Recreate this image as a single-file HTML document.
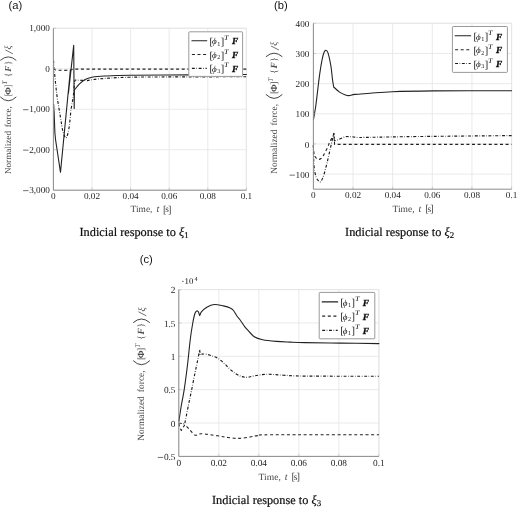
<!DOCTYPE html><html><head><meta charset="utf-8"><style>html,body{margin:0;padding:0;background:#fff;width:518px;height:507px;overflow:hidden}svg{display:block;will-change:transform}text{font-family:"Liberation Serif", serif;text-rendering:geometricPrecision}text.sans{font-family:"Liberation Sans",sans-serif}</style></head><body>
<svg width="518" height="507" viewBox="0 0 518 507" fill="#111">
<rect width="518" height="507" fill="#fff"/>
<line x1="53.4" y1="28.3" x2="53.4" y2="190.2" stroke="#e4e4e4" stroke-width="0.8"/>
<line x1="92" y1="28.3" x2="92" y2="190.2" stroke="#e4e4e4" stroke-width="0.8"/>
<line x1="130.6" y1="28.3" x2="130.6" y2="190.2" stroke="#e4e4e4" stroke-width="0.8"/>
<line x1="169.2" y1="28.3" x2="169.2" y2="190.2" stroke="#e4e4e4" stroke-width="0.8"/>
<line x1="207.8" y1="28.3" x2="207.8" y2="190.2" stroke="#e4e4e4" stroke-width="0.8"/>
<line x1="246.4" y1="28.3" x2="246.4" y2="190.2" stroke="#e4e4e4" stroke-width="0.8"/>
<line x1="53.4" y1="28.3" x2="246.4" y2="28.3" stroke="#e4e4e4" stroke-width="0.8"/>
<line x1="53.4" y1="68.77" x2="246.4" y2="68.77" stroke="#e4e4e4" stroke-width="0.8"/>
<line x1="53.4" y1="109.25" x2="246.4" y2="109.25" stroke="#e4e4e4" stroke-width="0.8"/>
<line x1="53.4" y1="149.72" x2="246.4" y2="149.72" stroke="#e4e4e4" stroke-width="0.8"/>
<line x1="53.4" y1="190.2" x2="246.4" y2="190.2" stroke="#e4e4e4" stroke-width="0.8"/>
<line x1="53.4" y1="28.3" x2="246.4" y2="28.3" stroke="#e4e4e4" stroke-width="0.8"/>
<line x1="246.4" y1="28.3" x2="246.4" y2="190.2" stroke="#e4e4e4" stroke-width="0.8"/>
<path d="M53.5,68.8 C53.5,68.8 53.92,69.55 55,69.8 C56.08,70.05 57.5,70.23 60,70.3 C62.5,70.37 68,70.33 70,70.2 C72,70.07 71.33,69.68 72,69.5 C72.67,69.32 74,69.1 74,69.1 L246.4,69.1" fill="none" stroke="#222" stroke-width="1.1" stroke-dasharray="3.0 2.6" stroke-linejoin="round"/>
<path d="M53.5,60.5 C53.5,60.5 53.75,64.13 54.1,68 C54.45,71.87 55.07,78.7 55.6,83.7 C56.13,88.7 56.47,92.28 57.3,98 C58.13,103.72 59.7,112.58 60.6,118 C61.5,123.42 61.88,127.2 62.7,130.5 C63.52,133.8 64.68,137.13 65.5,137.8 C66.32,138.47 66.93,136.7 67.6,134.5 C68.27,132.3 68.93,128.68 69.5,124.6 C70.07,120.52 70.38,114.6 71,110 C71.62,105.4 72.65,101.17 73.2,97 C73.75,92.83 74.02,87.75 74.3,85 C74.58,82.25 74.62,81.32 74.9,80.5 C75.18,79.68 76,80.1 76,80.1 L87.4,80.6 C87.4,80.6 91.9,79.47 99,78.9 C106.1,78.33 114.83,77.53 130,77.2 C145.17,76.87 170.6,76.98 190,76.9 C209.4,76.82 246.4,76.7 246.4,76.7" fill="none" stroke="#1a1a1a" stroke-width="1.15" stroke-dasharray="2.9 1.6 0.6 1.7" stroke-linejoin="round"/>
<path d="M53.6,104 L54.1,112 L54.9,133 L55.6,140 L60.5,172.3 L70.4,69.8 L68.4,93.4 L73.7,45.4 L74.2,108.5 L74.4,90 C74.4,90 75.98,87.98 76.8,87 C77.62,86.02 77.92,85.35 79.3,84.1 C80.68,82.85 82.98,80.65 85.1,79.5 C87.22,78.35 88.72,77.78 92,77.2 C95.28,76.62 98.47,76.33 104.8,76 C111.13,75.67 115.8,75.38 130,75.2 C144.2,75.02 170.6,75.02 190,74.9 C209.4,74.78 246.4,74.5 246.4,74.5" fill="none" stroke="#222" stroke-width="1.1" stroke-linejoin="round" stroke-linecap="round"/>
<line x1="92" y1="190.2" x2="92" y2="187.6" stroke="#c4c4c4" stroke-width="0.8"/>
<line x1="130.6" y1="190.2" x2="130.6" y2="187.6" stroke="#c4c4c4" stroke-width="0.8"/>
<line x1="169.2" y1="190.2" x2="169.2" y2="187.6" stroke="#c4c4c4" stroke-width="0.8"/>
<line x1="207.8" y1="190.2" x2="207.8" y2="187.6" stroke="#c4c4c4" stroke-width="0.8"/>
<line x1="246.4" y1="190.2" x2="246.4" y2="187.6" stroke="#c4c4c4" stroke-width="0.8"/>
<line x1="53.4" y1="28.3" x2="56" y2="28.3" stroke="#c4c4c4" stroke-width="0.8"/>
<line x1="53.4" y1="68.77" x2="56" y2="68.77" stroke="#c4c4c4" stroke-width="0.8"/>
<line x1="53.4" y1="109.25" x2="56" y2="109.25" stroke="#c4c4c4" stroke-width="0.8"/>
<line x1="53.4" y1="149.72" x2="56" y2="149.72" stroke="#c4c4c4" stroke-width="0.8"/>
<path d="M53.4,28.3 L53.4,190.2 L246.4,190.2" fill="none" stroke="#8c8c8c" stroke-width="1" stroke-linejoin="round"/>
<rect x="188.8" y="31.8" width="53.8" height="44.6" fill="#fff" stroke="#9a9a9a" stroke-width="1.0" rx="0.8"/>
<path d="M191.9,40.7 L206.8,40.7" fill="none" stroke="#222" stroke-width="1.1" stroke-linejoin="round" stroke-linecap="round"/>
<text x="209.43" y="44.7" font-size="10.4">[</text>
<text x="212" y="44.4" font-size="9" font-style="italic">&#x3d5;</text>
<text x="217.2" y="45.6" font-size="6.2">1</text>
<text x="220.8" y="44.7" font-size="10.4">]</text>
<text x="224.1" y="39.8" font-size="7.0" font-style="italic" textLength="4.6" lengthAdjust="spacingAndGlyphs">T</text>
<text x="232" y="44.4" font-size="9.3" font-style="italic" font-weight="bold" stroke="#111" stroke-width="0.35">F</text>
<path d="M191.9,54.5 L206.8,54.5" fill="none" stroke="#222" stroke-width="1.1" stroke-dasharray="3.0 2.6" stroke-linejoin="round"/>
<text x="209.43" y="58.5" font-size="10.4">[</text>
<text x="212" y="58.2" font-size="9" font-style="italic">&#x3d5;</text>
<text x="217.2" y="59.4" font-size="6.2">2</text>
<text x="220.8" y="58.5" font-size="10.4">]</text>
<text x="224.1" y="53.6" font-size="7.0" font-style="italic" textLength="4.6" lengthAdjust="spacingAndGlyphs">T</text>
<text x="232" y="58.2" font-size="9.3" font-style="italic" font-weight="bold" stroke="#111" stroke-width="0.35">F</text>
<path d="M191.9,68.3 L206.8,68.3" fill="none" stroke="#1a1a1a" stroke-width="1.15" stroke-dasharray="2.9 1.6 0.6 1.7" stroke-linejoin="round"/>
<text x="209.43" y="72.3" font-size="10.4">[</text>
<text x="212" y="72" font-size="9" font-style="italic">&#x3d5;</text>
<text x="217.2" y="73.2" font-size="6.2">3</text>
<text x="220.8" y="72.3" font-size="10.4">]</text>
<text x="224.1" y="67.4" font-size="7.0" font-style="italic" textLength="4.6" lengthAdjust="spacingAndGlyphs">T</text>
<text x="232" y="72" font-size="9.3" font-style="italic" font-weight="bold" stroke="#111" stroke-width="0.35">F</text>
<text x="53.4" y="198.9" text-anchor="middle" font-size="9.2" fill="#262626">0</text>
<text x="92" y="198.9" text-anchor="middle" font-size="9.2" fill="#262626">0.02</text>
<text x="130.6" y="198.9" text-anchor="middle" font-size="9.2" fill="#262626">0.04</text>
<text x="169.2" y="198.9" text-anchor="middle" font-size="9.2" fill="#262626">0.06</text>
<text x="207.8" y="198.9" text-anchor="middle" font-size="9.2" fill="#262626">0.08</text>
<text x="246.4" y="198.9" text-anchor="middle" font-size="9.2" fill="#262626">0.1</text>
<text x="49.9" y="31.34" text-anchor="end" font-size="9.2" fill="#262626">1,000</text>
<text x="49.9" y="71.81" text-anchor="end" font-size="9.2" fill="#262626">0</text>
<text x="49.9" y="112.29" text-anchor="end" font-size="9.2" fill="#262626">1,000</text>
<line x1="23.1" y1="109.69" x2="28.5" y2="109.69" stroke="#111" stroke-width="0.6"/>
<text x="49.9" y="152.76" text-anchor="end" font-size="9.2" fill="#262626">2,000</text>
<line x1="23.1" y1="150.16" x2="28.5" y2="150.16" stroke="#111" stroke-width="0.6"/>
<text x="49.9" y="193.24" text-anchor="end" font-size="9.2" fill="#262626">3,000</text>
<line x1="23.1" y1="190.64" x2="28.5" y2="190.64" stroke="#111" stroke-width="0.6"/>
<g fill="#444">
<text x="130.6" y="212.3" font-size="9.4" fill="#444">Time,</text>
<text x="156.44" y="212.3" font-size="9.9" font-style="italic" fill="#444">t</text>
<text x="163.02" y="212.5" font-size="10.39" fill="#444">[</text>
<text x="165.25" y="212.3" font-size="9.4" fill="#444">s</text>
<text x="168.02" y="212.5" font-size="10.39" fill="#444">]</text>
</g>
<g transform="translate(10.9,174) rotate(-90) scale(1)" fill="#4a4a4a">
<text x="0" y="0" font-size="9.1">Normalized</text>
<text x="46.8" y="0" font-size="9.1">force,</text>
<path d="M77.1,-10.6 Q69.3,-2.6 77.1,5.4" fill="none" stroke="#1a1a1a" stroke-width="0.8"/>
<text x="77.6" y="0" font-size="9.1">[</text>
<text x="79.3" y="0" font-size="9.1" font-weight="bold">&#x3a6;</text>
<text x="86.4" y="0" font-size="9.1">]</text>
<text x="89.4" y="-4.0" font-size="7" font-style="italic">T</text>
<text x="97.1" y="0" font-size="9.1">{</text>
<text x="102.3" y="0" font-size="9.1" font-weight="bold" font-style="italic">F</text>
<text x="108.9" y="0" font-size="9.1">}</text>
<path d="M113.6,-10.6 Q120.6,-2.6 113.6,5.4" fill="none" stroke="#1a1a1a" stroke-width="0.8"/>
<path d="M120.2,2.0 L124.1,-5.6" fill="none" stroke="#1a1a1a" stroke-width="0.6"/>
<text x="124.4" y="0.5" font-size="9.2" font-style="italic">&#x3be;</text>
</g>
<text x="79.5" y="235.5" font-size="12.3" stroke="#000" stroke-width="0.18">Indicial response to <tspan font-style="italic">&#x3be;</tspan><tspan font-size="8.86" dy="2">1</tspan></text>
<text x="8.6" y="9.4" font-size="11.2" class="sans">(a)</text>
<line x1="313.4" y1="23.3" x2="313.4" y2="189.2" stroke="#e4e4e4" stroke-width="0.8"/>
<line x1="353.04" y1="23.3" x2="353.04" y2="189.2" stroke="#e4e4e4" stroke-width="0.8"/>
<line x1="392.68" y1="23.3" x2="392.68" y2="189.2" stroke="#e4e4e4" stroke-width="0.8"/>
<line x1="432.32" y1="23.3" x2="432.32" y2="189.2" stroke="#e4e4e4" stroke-width="0.8"/>
<line x1="471.96" y1="23.3" x2="471.96" y2="189.2" stroke="#e4e4e4" stroke-width="0.8"/>
<line x1="511.6" y1="23.3" x2="511.6" y2="189.2" stroke="#e4e4e4" stroke-width="0.8"/>
<line x1="313.4" y1="23.3" x2="511.6" y2="23.3" stroke="#e4e4e4" stroke-width="0.8"/>
<line x1="313.4" y1="53.46" x2="511.6" y2="53.46" stroke="#e4e4e4" stroke-width="0.8"/>
<line x1="313.4" y1="83.63" x2="511.6" y2="83.63" stroke="#e4e4e4" stroke-width="0.8"/>
<line x1="313.4" y1="113.79" x2="511.6" y2="113.79" stroke="#e4e4e4" stroke-width="0.8"/>
<line x1="313.4" y1="143.95" x2="511.6" y2="143.95" stroke="#e4e4e4" stroke-width="0.8"/>
<line x1="313.4" y1="174.12" x2="511.6" y2="174.12" stroke="#e4e4e4" stroke-width="0.8"/>
<line x1="313.4" y1="23.3" x2="511.6" y2="23.3" stroke="#e4e4e4" stroke-width="0.8"/>
<line x1="511.6" y1="23.3" x2="511.6" y2="189.2" stroke="#e4e4e4" stroke-width="0.8"/>
<path d="M313.4,145 C313.4,145 313.53,150.08 313.8,152 C314.07,153.92 314.3,155.28 315,156.5 C315.7,157.72 317,158.97 318,159.3 C319,159.63 320.02,159.28 321,158.5 C321.98,157.72 322.82,156.4 323.9,154.6 C324.98,152.8 326.53,149.8 327.5,147.7 C328.47,145.6 328.88,143.73 329.7,142 C330.52,140.27 331.7,138.75 332.4,137.3 C333.1,135.85 333.9,133.3 333.9,133.3 L334.6,144.4 L511.6,144.4" fill="none" stroke="#222" stroke-width="1.1" stroke-dasharray="3.0 2.6" stroke-linejoin="round"/>
<path d="M313.4,145 C313.4,145 313.52,155.83 313.7,160 C313.88,164.17 314.03,167 314.5,170 C314.97,173 315.62,176.03 316.5,178 C317.38,179.97 318.97,181.38 319.8,181.8 C320.63,182.22 320.82,181.68 321.5,180.5 C322.18,179.32 323.07,177.28 323.9,174.7 C324.73,172.12 325.7,168.15 326.5,165 C327.3,161.85 327.92,159.18 328.7,155.8 C329.48,152.42 330.48,147.83 331.2,144.7 C331.92,141.57 332.55,138.87 333,137 C333.45,135.13 333.9,133.5 333.9,133.5 L334.4,140.8 C334.4,140.8 337,140.17 338.8,139.5 C340.6,138.83 343.5,137.28 345.2,136.8 C346.9,136.32 347.82,136.6 349,136.6 C350.18,136.6 350.75,136.65 352.3,136.8 C353.85,136.95 355.35,137.42 358.3,137.5 C361.25,137.58 359.72,137.47 370,137.3 C380.28,137.13 396.4,136.78 420,136.5 C443.6,136.22 511.6,135.6 511.6,135.6" fill="none" stroke="#1a1a1a" stroke-width="1.15" stroke-dasharray="2.9 1.6 0.6 1.7" stroke-linejoin="round"/>
<path d="M313.4,120 C313.4,120 315.17,110.13 315.9,105 C316.63,99.87 317.15,94.47 317.8,89.2 C318.45,83.93 319.07,78.4 319.8,73.4 C320.53,68.4 321.47,62.77 322.2,59.2 C322.93,55.63 323.57,53.47 324.2,52 C324.83,50.53 325.37,50.27 326,50.4 C326.63,50.53 327.18,50.2 328,52.8 C328.82,55.4 330.15,61.55 330.9,66 C331.65,70.45 332.03,76 332.5,79.5 C332.97,83 333.7,87 333.7,87 C333.7,87 337.63,90.77 339.6,92.1 C341.57,93.43 343.93,94.42 345.5,95 C347.07,95.58 347.42,95.7 349,95.6 C350.58,95.5 351.5,94.78 355,94.4 C358.5,94.02 363.78,93.75 370,93.3 C376.22,92.85 381.75,92.1 392.3,91.7 C402.85,91.3 413.42,91.07 433.3,90.9 C453.18,90.73 511.6,90.7 511.6,90.7" fill="none" stroke="#222" stroke-width="1.1" stroke-linejoin="round" stroke-linecap="round"/>
<line x1="353.04" y1="189.2" x2="353.04" y2="186.6" stroke="#c4c4c4" stroke-width="0.8"/>
<line x1="392.68" y1="189.2" x2="392.68" y2="186.6" stroke="#c4c4c4" stroke-width="0.8"/>
<line x1="432.32" y1="189.2" x2="432.32" y2="186.6" stroke="#c4c4c4" stroke-width="0.8"/>
<line x1="471.96" y1="189.2" x2="471.96" y2="186.6" stroke="#c4c4c4" stroke-width="0.8"/>
<line x1="511.6" y1="189.2" x2="511.6" y2="186.6" stroke="#c4c4c4" stroke-width="0.8"/>
<line x1="313.4" y1="23.3" x2="316" y2="23.3" stroke="#c4c4c4" stroke-width="0.8"/>
<line x1="313.4" y1="53.46" x2="316" y2="53.46" stroke="#c4c4c4" stroke-width="0.8"/>
<line x1="313.4" y1="83.63" x2="316" y2="83.63" stroke="#c4c4c4" stroke-width="0.8"/>
<line x1="313.4" y1="113.79" x2="316" y2="113.79" stroke="#c4c4c4" stroke-width="0.8"/>
<line x1="313.4" y1="143.95" x2="316" y2="143.95" stroke="#c4c4c4" stroke-width="0.8"/>
<path d="M313.4,23.3 L313.4,189.2 L511.6,189.2" fill="none" stroke="#8c8c8c" stroke-width="1" stroke-linejoin="round"/>
<rect x="452.4" y="26.5" width="55" height="45.9" fill="#fff" stroke="#9a9a9a" stroke-width="1.0" rx="0.8"/>
<path d="M455.1,35.8 L470.7,35.8" fill="none" stroke="#222" stroke-width="1.1" stroke-linejoin="round" stroke-linecap="round"/>
<text x="473.43" y="39.8" font-size="10.4">[</text>
<text x="476" y="39.5" font-size="9" font-style="italic">&#x3d5;</text>
<text x="481.2" y="40.7" font-size="6.2">1</text>
<text x="484.8" y="39.8" font-size="10.4">]</text>
<text x="488.1" y="34.9" font-size="7.0" font-style="italic" textLength="4.6" lengthAdjust="spacingAndGlyphs">T</text>
<text x="496" y="39.5" font-size="9.3" font-style="italic" font-weight="bold" stroke="#111" stroke-width="0.35">F</text>
<path d="M455.1,49.7 L470.7,49.7" fill="none" stroke="#222" stroke-width="1.1" stroke-dasharray="3.0 2.6" stroke-linejoin="round"/>
<text x="473.43" y="53.7" font-size="10.4">[</text>
<text x="476" y="53.4" font-size="9" font-style="italic">&#x3d5;</text>
<text x="481.2" y="54.6" font-size="6.2">2</text>
<text x="484.8" y="53.7" font-size="10.4">]</text>
<text x="488.1" y="48.8" font-size="7.0" font-style="italic" textLength="4.6" lengthAdjust="spacingAndGlyphs">T</text>
<text x="496" y="53.4" font-size="9.3" font-style="italic" font-weight="bold" stroke="#111" stroke-width="0.35">F</text>
<path d="M455.1,63.5 L470.7,63.5" fill="none" stroke="#1a1a1a" stroke-width="1.15" stroke-dasharray="2.9 1.6 0.6 1.7" stroke-linejoin="round"/>
<text x="473.43" y="67.5" font-size="10.4">[</text>
<text x="476" y="67.2" font-size="9" font-style="italic">&#x3d5;</text>
<text x="481.2" y="68.4" font-size="6.2">3</text>
<text x="484.8" y="67.5" font-size="10.4">]</text>
<text x="488.1" y="62.6" font-size="7.0" font-style="italic" textLength="4.6" lengthAdjust="spacingAndGlyphs">T</text>
<text x="496" y="67.2" font-size="9.3" font-style="italic" font-weight="bold" stroke="#111" stroke-width="0.35">F</text>
<text x="313.4" y="198.3" text-anchor="middle" font-size="9.2" fill="#262626">0</text>
<text x="353.04" y="198.3" text-anchor="middle" font-size="9.2" fill="#262626">0.02</text>
<text x="392.68" y="198.3" text-anchor="middle" font-size="9.2" fill="#262626">0.04</text>
<text x="432.32" y="198.3" text-anchor="middle" font-size="9.2" fill="#262626">0.06</text>
<text x="471.96" y="198.3" text-anchor="middle" font-size="9.2" fill="#262626">0.08</text>
<text x="511.6" y="198.3" text-anchor="middle" font-size="9.2" fill="#262626">0.1</text>
<text x="309.4" y="26.94" text-anchor="end" font-size="9.2" fill="#262626">400</text>
<text x="309.4" y="57.1" text-anchor="end" font-size="9.2" fill="#262626">300</text>
<text x="309.4" y="87.26" text-anchor="end" font-size="9.2" fill="#262626">200</text>
<text x="309.4" y="117.43" text-anchor="end" font-size="9.2" fill="#262626">100</text>
<text x="309.4" y="147.59" text-anchor="end" font-size="9.2" fill="#262626">0</text>
<text x="309.4" y="177.75" text-anchor="end" font-size="9.2" fill="#262626">100</text>
<line x1="289.5" y1="175.15" x2="294.9" y2="175.15" stroke="#111" stroke-width="0.6"/>
<g fill="#444">
<text x="392.5" y="211.8" font-size="9.5" fill="#444">Time,</text>
<text x="418.6" y="211.8" font-size="10" font-style="italic" fill="#444">t</text>
<text x="425.25" y="212" font-size="10.5" fill="#444">[</text>
<text x="427.5" y="211.8" font-size="9.5" fill="#444">s</text>
<text x="430.3" y="212" font-size="10.5" fill="#444">]</text>
</g>
<g transform="translate(276.8,173.8) rotate(-90) scale(1.03)" fill="#4a4a4a">
<text x="0" y="0" font-size="9.1">Normalized</text>
<text x="46.8" y="0" font-size="9.1">force,</text>
<path d="M77.1,-10.6 Q69.3,-2.6 77.1,5.4" fill="none" stroke="#1a1a1a" stroke-width="0.8"/>
<text x="77.6" y="0" font-size="9.1">[</text>
<text x="79.3" y="0" font-size="9.1" font-weight="bold">&#x3a6;</text>
<text x="86.4" y="0" font-size="9.1">]</text>
<text x="89.4" y="-4.0" font-size="7" font-style="italic">T</text>
<text x="97.1" y="0" font-size="9.1">{</text>
<text x="102.3" y="0" font-size="9.1" font-weight="bold" font-style="italic">F</text>
<text x="108.9" y="0" font-size="9.1">}</text>
<path d="M113.6,-10.6 Q120.6,-2.6 113.6,5.4" fill="none" stroke="#1a1a1a" stroke-width="0.8"/>
<path d="M120.2,2.0 L124.1,-5.6" fill="none" stroke="#1a1a1a" stroke-width="0.6"/>
<text x="124.4" y="0.5" font-size="9.2" font-style="italic">&#x3be;</text>
</g>
<text x="345.1" y="236.3" font-size="12.3" stroke="#000" stroke-width="0.18">Indicial response to <tspan font-style="italic">&#x3be;</tspan><tspan font-size="8.86" dy="2">2</tspan></text>
<text x="274.0" y="9.4" font-size="11.2" class="sans">(b)</text>
<line x1="178.8" y1="289.6" x2="178.8" y2="456.4" stroke="#e4e4e4" stroke-width="0.8"/>
<line x1="218.82" y1="289.6" x2="218.82" y2="456.4" stroke="#e4e4e4" stroke-width="0.8"/>
<line x1="258.84" y1="289.6" x2="258.84" y2="456.4" stroke="#e4e4e4" stroke-width="0.8"/>
<line x1="298.86" y1="289.6" x2="298.86" y2="456.4" stroke="#e4e4e4" stroke-width="0.8"/>
<line x1="338.88" y1="289.6" x2="338.88" y2="456.4" stroke="#e4e4e4" stroke-width="0.8"/>
<line x1="378.9" y1="289.6" x2="378.9" y2="456.4" stroke="#e4e4e4" stroke-width="0.8"/>
<line x1="178.8" y1="289.6" x2="378.9" y2="289.6" stroke="#e4e4e4" stroke-width="0.8"/>
<line x1="178.8" y1="322.96" x2="378.9" y2="322.96" stroke="#e4e4e4" stroke-width="0.8"/>
<line x1="178.8" y1="356.32" x2="378.9" y2="356.32" stroke="#e4e4e4" stroke-width="0.8"/>
<line x1="178.8" y1="389.68" x2="378.9" y2="389.68" stroke="#e4e4e4" stroke-width="0.8"/>
<line x1="178.8" y1="423.04" x2="378.9" y2="423.04" stroke="#e4e4e4" stroke-width="0.8"/>
<line x1="178.8" y1="456.4" x2="378.9" y2="456.4" stroke="#e4e4e4" stroke-width="0.8"/>
<line x1="178.8" y1="289.6" x2="378.9" y2="289.6" stroke="#e4e4e4" stroke-width="0.8"/>
<line x1="378.9" y1="289.6" x2="378.9" y2="456.4" stroke="#e4e4e4" stroke-width="0.8"/>
<path d="M178.9,423.4 L179.5,427 L181.4,430.4 L184.8,424.6 C184.8,424.6 187.77,427.73 189.5,429.5 C191.23,431.27 193.2,434.5 195.2,435.2 C197.2,435.9 197.78,433.6 201.5,433.7 C205.22,433.8 213.08,435.17 217.5,435.8 C221.92,436.43 224.47,437.07 228,437.5 C231.53,437.93 235.03,438.48 238.7,438.4 C242.37,438.32 246.82,437.47 250,437 C253.18,436.53 254.38,435.97 257.8,435.6 C261.22,435.23 250.32,434.93 270.5,434.8 C290.68,434.67 378.9,434.8 378.9,434.8" fill="none" stroke="#222" stroke-width="1.1" stroke-dasharray="3.0 2.6" stroke-linejoin="round"/>
<path d="M178.9,423.4 L182.5,423.5 L184.7,424 C184.7,424 187.33,410.75 188.5,405 C189.67,399.25 190.62,394.83 191.7,389.5 C192.78,384.17 194.07,377.58 195,373 C195.93,368.42 196.52,365.87 197.3,362 C198.08,358.13 199.7,349.8 199.7,349.8 L200.2,355.1 C200.2,355.1 200.93,354.23 202,354.1 C203.07,353.97 204.87,353.98 206.6,354.3 C208.33,354.62 210.47,355.3 212.4,356 C214.33,356.7 216.27,357.3 218.2,358.5 C220.13,359.7 222.07,361.45 224,363.2 C225.93,364.95 227.87,367.27 229.8,369 C231.73,370.73 233.67,372.35 235.6,373.6 C237.53,374.85 239.48,375.88 241.4,376.5 C243.32,377.12 244.98,377.4 247.1,377.3 C249.22,377.2 250.82,376.4 254.1,375.9 C257.38,375.4 261.93,374.42 266.8,374.3 C271.67,374.18 276.93,374.9 283.3,375.2 C289.67,375.5 289.07,375.93 305,376.1 C320.93,376.27 378.9,376.2 378.9,376.2" fill="none" stroke="#1a1a1a" stroke-width="1.15" stroke-dasharray="2.9 1.6 0.6 1.7" stroke-linejoin="round"/>
<path d="M178.9,421.3 C178.9,421.3 180.52,410.27 181.4,405 C182.28,399.73 183.17,396.53 184.2,389.7 C185.23,382.87 186.6,372.28 187.6,364 C188.6,355.72 189.37,346.67 190.2,340 C191.03,333.33 191.8,328.45 192.6,324 C193.4,319.55 194.25,315.52 195,313.3 C195.75,311.08 197.1,310.7 197.1,310.7 C197.1,310.7 198.07,311.18 198.5,312 C198.93,312.82 199.25,315.58 199.7,315.6 C200.15,315.62 200.02,313.48 201.2,312.1 C202.38,310.72 204.62,308.57 206.8,307.3 C208.98,306.03 211.55,304.73 214.3,304.5 C217.05,304.27 220.65,305.33 223.3,305.9 C225.95,306.47 228.5,307.13 230.2,307.9 C231.9,308.67 232.35,309.12 233.5,310.5 C234.65,311.88 235.93,314.53 237.1,316.2 C238.27,317.87 239.23,318.77 240.5,320.5 C241.77,322.23 243.55,325.07 244.7,326.6 C245.85,328.13 245.8,328 247.4,329.7 C249,331.4 251.77,335.13 254.3,336.8 C256.83,338.47 258.92,338.93 262.6,339.7 C266.28,340.47 271.8,341 276.4,341.4 C281,341.8 285.43,341.9 290.2,342.1 C294.97,342.3 296.7,342.43 305,342.6 C313.3,342.77 327.68,342.93 340,343.1 C352.32,343.27 378.9,343.6 378.9,343.6" fill="none" stroke="#222" stroke-width="1.1" stroke-linejoin="round" stroke-linecap="round"/>
<line x1="218.82" y1="456.4" x2="218.82" y2="453.8" stroke="#c4c4c4" stroke-width="0.8"/>
<line x1="258.84" y1="456.4" x2="258.84" y2="453.8" stroke="#c4c4c4" stroke-width="0.8"/>
<line x1="298.86" y1="456.4" x2="298.86" y2="453.8" stroke="#c4c4c4" stroke-width="0.8"/>
<line x1="338.88" y1="456.4" x2="338.88" y2="453.8" stroke="#c4c4c4" stroke-width="0.8"/>
<line x1="378.9" y1="456.4" x2="378.9" y2="453.8" stroke="#c4c4c4" stroke-width="0.8"/>
<line x1="178.8" y1="289.6" x2="181.4" y2="289.6" stroke="#c4c4c4" stroke-width="0.8"/>
<line x1="178.8" y1="322.96" x2="181.4" y2="322.96" stroke="#c4c4c4" stroke-width="0.8"/>
<line x1="178.8" y1="356.32" x2="181.4" y2="356.32" stroke="#c4c4c4" stroke-width="0.8"/>
<line x1="178.8" y1="389.68" x2="181.4" y2="389.68" stroke="#c4c4c4" stroke-width="0.8"/>
<line x1="178.8" y1="423.04" x2="181.4" y2="423.04" stroke="#c4c4c4" stroke-width="0.8"/>
<path d="M178.8,289.6 L178.8,456.4 L378.9,456.4" fill="none" stroke="#8c8c8c" stroke-width="1" stroke-linejoin="round"/>
<rect x="319.2" y="292.4" width="55.6" height="46.4" fill="#fff" stroke="#9a9a9a" stroke-width="1.0" rx="0.8"/>
<path d="M322.2,301.9 L337.7,301.9" fill="none" stroke="#222" stroke-width="1.1" stroke-linejoin="round" stroke-linecap="round"/>
<text x="340.23" y="305.9" font-size="10.4">[</text>
<text x="342.8" y="305.6" font-size="9" font-style="italic">&#x3d5;</text>
<text x="348" y="306.8" font-size="6.2">1</text>
<text x="351.6" y="305.9" font-size="10.4">]</text>
<text x="354.9" y="301" font-size="7.0" font-style="italic" textLength="4.6" lengthAdjust="spacingAndGlyphs">T</text>
<text x="362.8" y="305.6" font-size="9.3" font-style="italic" font-weight="bold" stroke="#111" stroke-width="0.35">F</text>
<path d="M322.2,316.1 L337.7,316.1" fill="none" stroke="#222" stroke-width="1.1" stroke-dasharray="3.0 2.6" stroke-linejoin="round"/>
<text x="340.23" y="320.1" font-size="10.4">[</text>
<text x="342.8" y="319.8" font-size="9" font-style="italic">&#x3d5;</text>
<text x="348" y="321" font-size="6.2">2</text>
<text x="351.6" y="320.1" font-size="10.4">]</text>
<text x="354.9" y="315.2" font-size="7.0" font-style="italic" textLength="4.6" lengthAdjust="spacingAndGlyphs">T</text>
<text x="362.8" y="319.8" font-size="9.3" font-style="italic" font-weight="bold" stroke="#111" stroke-width="0.35">F</text>
<path d="M322.2,330.3 L337.7,330.3" fill="none" stroke="#1a1a1a" stroke-width="1.15" stroke-dasharray="2.9 1.6 0.6 1.7" stroke-linejoin="round"/>
<text x="340.23" y="334.3" font-size="10.4">[</text>
<text x="342.8" y="334" font-size="9" font-style="italic">&#x3d5;</text>
<text x="348" y="335.2" font-size="6.2">1</text>
<text x="351.6" y="334.3" font-size="10.4">]</text>
<text x="354.9" y="329.4" font-size="7.0" font-style="italic" textLength="4.6" lengthAdjust="spacingAndGlyphs">T</text>
<text x="362.8" y="334" font-size="9.3" font-style="italic" font-weight="bold" stroke="#111" stroke-width="0.35">F</text>
<text x="178.8" y="465.8" text-anchor="middle" font-size="9.3" fill="#262626">0</text>
<text x="218.82" y="465.8" text-anchor="middle" font-size="9.3" fill="#262626">0.02</text>
<text x="258.84" y="465.8" text-anchor="middle" font-size="9.3" fill="#262626">0.04</text>
<text x="298.86" y="465.8" text-anchor="middle" font-size="9.3" fill="#262626">0.06</text>
<text x="338.88" y="465.8" text-anchor="middle" font-size="9.3" fill="#262626">0.08</text>
<text x="378.9" y="465.8" text-anchor="middle" font-size="9.3" fill="#262626">0.1</text>
<text x="175.5" y="293.27" text-anchor="end" font-size="9.3" fill="#262626">2</text>
<text x="175.5" y="326.63" text-anchor="end" font-size="9.3" fill="#262626">1.5</text>
<text x="175.5" y="359.99" text-anchor="end" font-size="9.3" fill="#262626">1</text>
<text x="175.5" y="393.35" text-anchor="end" font-size="9.3" fill="#262626">0.5</text>
<text x="175.5" y="426.71" text-anchor="end" font-size="9.3" fill="#262626">0</text>
<text x="175.5" y="460.07" text-anchor="end" font-size="9.3" fill="#262626">0.5</text>
<line x1="157.78" y1="457.44" x2="163.18" y2="457.44" stroke="#111" stroke-width="0.6"/>
<circle cx="182.9" cy="281.3" r="0.65" fill="#222"/><text x="184.6" y="284.2" font-size="8.8">10</text><text x="194.4" y="280.8" font-size="6.2">4</text>
<g fill="#444">
<text x="258.6" y="479.6" font-size="9.55" fill="#444">Time,</text>
<text x="284.83" y="479.6" font-size="10.05" font-style="italic" fill="#444">t</text>
<text x="291.51" y="479.8" font-size="10.55" fill="#444">[</text>
<text x="293.78" y="479.6" font-size="9.55" fill="#444">s</text>
<text x="296.59" y="479.8" font-size="10.55" fill="#444">]</text>
</g>
<g transform="translate(144.2,440.8) rotate(-90) scale(1.04)" fill="#4a4a4a">
<text x="0" y="0" font-size="9.1">Normalized</text>
<text x="46.8" y="0" font-size="9.1">force,</text>
<path d="M77.1,-10.6 Q69.3,-2.6 77.1,5.4" fill="none" stroke="#1a1a1a" stroke-width="0.8"/>
<text x="77.6" y="0" font-size="9.1">[</text>
<text x="79.3" y="0" font-size="9.1" font-weight="bold">&#x3a6;</text>
<text x="86.4" y="0" font-size="9.1">]</text>
<text x="89.4" y="-4.0" font-size="7" font-style="italic">T</text>
<text x="97.1" y="0" font-size="9.1">{</text>
<text x="102.3" y="0" font-size="9.1" font-weight="bold" font-style="italic">F</text>
<text x="108.9" y="0" font-size="9.1">}</text>
<path d="M113.6,-10.6 Q120.6,-2.6 113.6,5.4" fill="none" stroke="#1a1a1a" stroke-width="0.8"/>
<path d="M120.2,2.0 L124.1,-5.6" fill="none" stroke="#1a1a1a" stroke-width="0.6"/>
<text x="124.4" y="0.5" font-size="9.2" font-style="italic">&#x3be;</text>
</g>
<text x="212" y="504.3" font-size="12.3" stroke="#000" stroke-width="0.18">Indicial response to <tspan font-style="italic">&#x3be;</tspan><tspan font-size="8.86" dy="2">3</tspan></text>
<text x="139.8" y="262.7" font-size="11.2" class="sans">(c)</text>
</svg></body></html>
